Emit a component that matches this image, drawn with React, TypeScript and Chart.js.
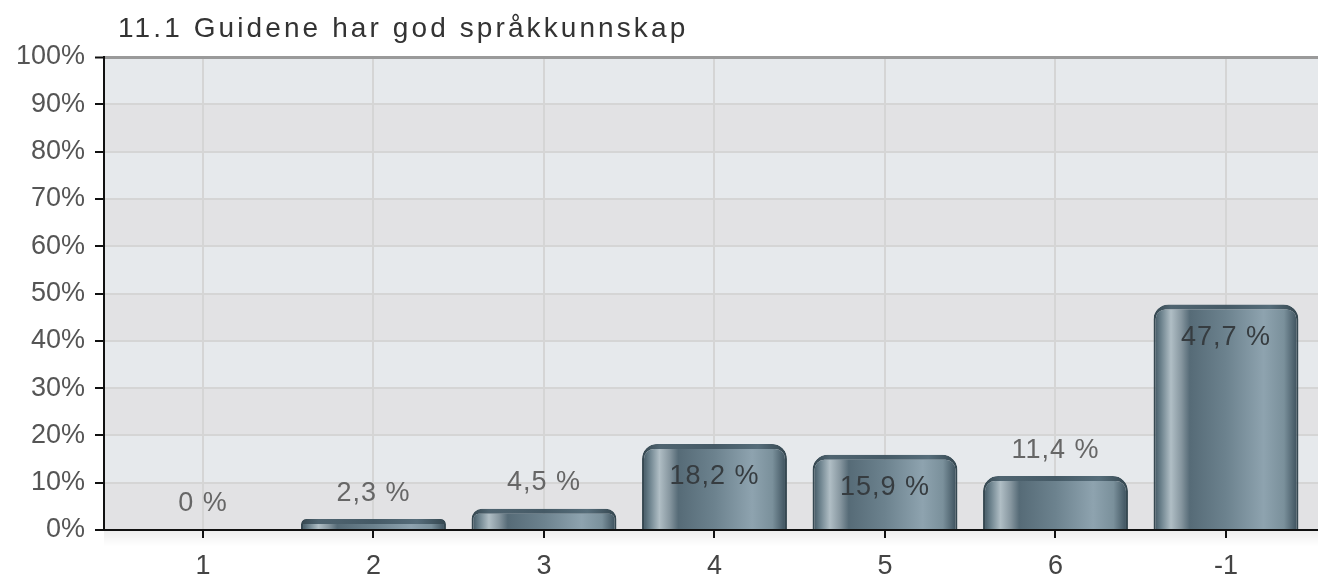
import React, { useEffect, useRef } from "react";
import { Chart, registerables } from "chart.js";

Chart.register(...registerables);

const title = "11.1 Guidene har god språkkunnskap";
const categories = ["1", "2", "3", "4", "5", "6", "-1"];
const values = [0, 2.3, 4.5, 18.2, 15.9, 11.4, 47.7];
const yMin = 0;
const yMax = 100;
const yStep = 10;

const FONT = '"Liberation Sans", Arial, Helvetica, sans-serif';

const fmtLabel = (v: number) => String(v).replace(".", ",") + " %";

const barGradient = (c: any) => {
  const chart = c.chart;
  const xs = chart.scales?.x;
  if (!xs || c.type !== "data") return "#6f8591";
  const center = xs.getPixelForValue(c.dataIndex);
  const w = (xs.getPixelForValue(1) - xs.getPixelForValue(0)) * 0.85;
  const l = center - w / 2;
  const r = center + w / 2;
  if (!isFinite(l) || !isFinite(r) || r <= l) return "#6f8591";
  const g = chart.ctx.createLinearGradient(l, 0, r, 0);
  g.addColorStop(0, "#3d525e");
  g.addColorStop(0.05, "#6a808b");
  g.addColorStop(0.12, "#b0bec5");
  g.addColorStop(0.19, "#8797a0");
  g.addColorStop(0.25, "#566b77");
  g.addColorStop(0.5, "#6c828e");
  g.addColorStop(0.76, "#8ea3af");
  g.addColorStop(0.9, "#7a909b");
  g.addColorStop(1, "#384c58");
  return g;
};

const borderGradient = (c: any) => {
  const chart = c.chart;
  const xs = chart.scales?.x;
  if (!xs || c.type !== "data") return "#3f535e";
  const center = xs.getPixelForValue(c.dataIndex);
  const w = (xs.getPixelForValue(1) - xs.getPixelForValue(0)) * 0.85;
  const l = center - w / 2;
  const r = center + w / 2;
  if (!isFinite(l) || !isFinite(r) || r <= l) return "#3f535e";
  const g = chart.ctx.createLinearGradient(l, 0, r, 0);
  g.addColorStop(0, "#34464f");
  g.addColorStop(0.12, "#4f6470");
  g.addColorStop(0.5, "#455a66");
  g.addColorStop(0.8, "#566d7a");
  g.addColorStop(1, "#34464f");
  return g;
};

const bandsPlugin = {
  id: "bands",
  beforeDraw(chart: any) {
    const { ctx, chartArea, scales } = chart;
    const ys = scales.y;
    ctx.save();
    const sg = ctx.createLinearGradient(0, chartArea.bottom, 0, chartArea.bottom + 16);
    sg.addColorStop(0, "rgba(0,0,0,0.07)");
    sg.addColorStop(1, "rgba(0,0,0,0)");
    ctx.fillStyle = sg;
    ctx.fillRect(chartArea.left, chartArea.bottom, chartArea.right - chartArea.left, 16);
    for (let v = yMin, i = 0; v < yMax; v += yStep, i++) {
      const top = ys.getPixelForValue(v + yStep);
      const bot = ys.getPixelForValue(v);
      ctx.fillStyle = i % 2 === 1 ? "#e6e9ec" : "#e2e2e4";
      ctx.fillRect(chartArea.left, top, chartArea.right - chartArea.left, bot - top);
    }
    ctx.restore();
  },
};

const xTickMarksPlugin = {
  id: "xTickMarks",
  afterDraw(chart: any) {
    const { ctx, scales } = chart;
    const xs = scales.x;
    const base = scales.y.getPixelForValue(yMin);
    ctx.save();
    ctx.fillStyle = "#111111";
    categories.forEach((_, i) => {
      const px = Math.round(xs.getPixelForValue(i));
      ctx.fillRect(px - 1, base, 2, 8);
    });
    ctx.restore();
  },
};

const labelsPlugin = {
  id: "valueLabels",
  afterDatasetsDraw(chart: any) {
    const { ctx } = chart;
    const meta = chart.getDatasetMeta(0);
    ctx.save();
    ctx.font = `27px ${FONT}`;
    ctx.textAlign = "center";
    ctx.textBaseline = "middle";
    try {
      (ctx as any).letterSpacing = "1px";
    } catch (e) {}
    meta.data.forEach((el: any, i: number) => {
      const v = values[i];
      const inside = v > 15;
      ctx.fillStyle = inside ? "#363c40" : "#666666";
      const y = inside ? el.y + 33 : el.y - 26;
      ctx.fillText(fmtLabel(v), el.x, y);
    });
    ctx.restore();
  },
};

const titlePlugin = {
  id: "customTitle",
  afterDraw(chart: any) {
    const { ctx, chartArea } = chart;
    ctx.save();
    ctx.font = `28px ${FONT}`;
    try {
      (ctx as any).letterSpacing = "3.1px";
    } catch (e) {}
    ctx.fillStyle = "#333333";
    ctx.textAlign = "left";
    ctx.textBaseline = "alphabetic";
    ctx.fillText(title, chartArea.left + 14, 37);
    ctx.restore();
  },
};

export default function App() {
  const ref = useRef<HTMLCanvasElement | null>(null);

  useEffect(() => {
    if (!ref.current) return;
    const chart = new Chart(ref.current, {
      type: "bar",
      data: {
        datasets: [
          {
            data: values.map((v, i) => ({ x: i, y: v })),
            backgroundColor: barGradient,
            borderColor: borderGradient,
            borderWidth: { top: 5, left: 2, right: 2, bottom: 0 },
            borderSkipped: "bottom",
            borderRadius: { topLeft: 15, topRight: 15, bottomLeft: 0, bottomRight: 0 },
            barPercentage: 0.85,
            categoryPercentage: 1,
          } as any,
        ],
      },
      options: {
        responsive: false,
        animation: false,
        events: [],
        layout: { padding: { top: 57, right: 0, bottom: 0, left: 0 } },
        plugins: {
          legend: { display: false },
          title: { display: false },
          tooltip: { enabled: false },
        },
        scales: {
          x: {
            type: "linear",
            min: -0.5806,
            max: 6.5396,
            offset: false,
            grid: {
              offset: false,
              color: "#d5d5d5",
              lineWidth: 2,
              drawTicks: true,
              tickColor: "#111111",
              tickLength: 8,
              tickWidth: 2,
            },
            border: { color: "#111111", width: 2 },
            ticks: {
              autoSkip: false,
              maxRotation: 0,
              padding: 12,
              color: "#444444",
              font: { family: FONT, size: 27 },
              callback: (v: any) => categories[v as number] ?? "",
            },
            afterBuildTicks: (s: any) => {
              s.ticks = categories.map((_, i) => ({ value: i }));
            },
            afterFit: (s: any) => {
              s.height = 48;
            },
          } as any,
          y: {
            min: yMin,
            max: yMax,
            grid: {
              color: (c: any) => (c.tick && c.tick.value === yMax ? "#9a9a9a" : "#d5d5d5"),
              lineWidth: (c: any) => (c.tick && c.tick.value === yMax ? 3 : 2),
              tickColor: "#111111",
              tickLength: 9,
              tickWidth: 2,
            },
            border: { color: "#111111", width: 2 },
            ticks: {
              stepSize: yStep,
              padding: 10,
              color: "#555555",
              font: { family: FONT, size: 27 },
              callback: (v: any) => v + "%",
            },
            afterFit: (s: any) => {
              s.width = 104;
            },
          } as any,
        },
      },
      plugins: [bandsPlugin, labelsPlugin, xTickMarksPlugin, titlePlugin],
    });
    return () => chart.destroy();
  }, []);

  return (
    <div style={{ position: "absolute", left: 0, top: 0, width: 1318, height: 578, background: "#ffffff" }}>
      <canvas ref={ref} width={1318} height={578} style={{ display: "block" }} />
    </div>
  );
}
